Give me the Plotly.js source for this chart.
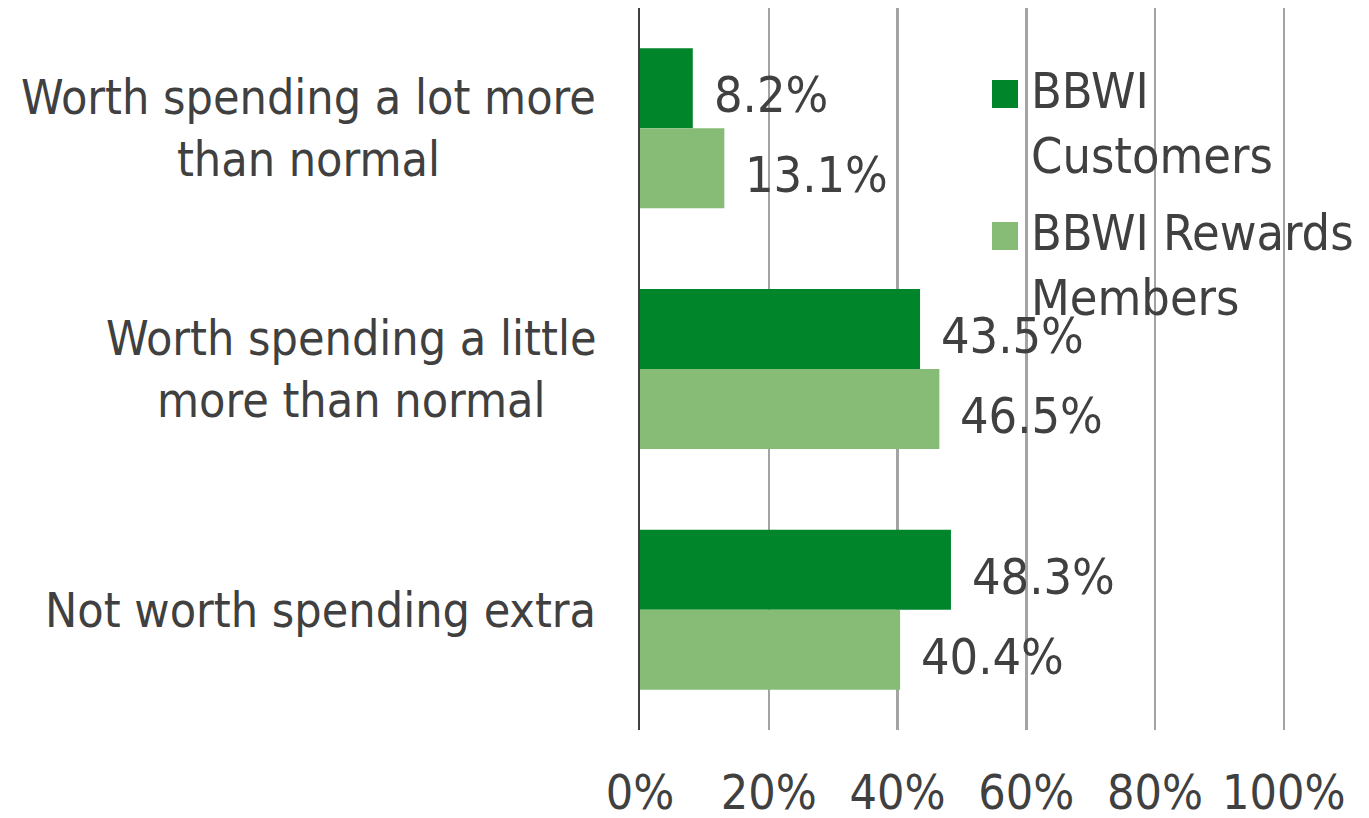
<!DOCTYPE html>
<html>
<head>
<meta charset="utf-8">
<script src="https://cdn.plot.ly/plotly-3.0.1.min.js"></script>
<style>html,body{margin:0;padding:0;background:#fff;}#chart{width:1369px;height:818px;}</style>
</head>
<body>
<div id="chart"></div>
<script>
var categories = ["Worth spending a lot more<br>than normal", "Worth spending a little<br>more than normal", "Not worth spending extra"];
var seriesNames = ["BBWI<br>Customers", "BBWI Rewards<br>Members"];
var customers = [8.2, 43.5, 48.3];
var rewardsMembers = [13.1, 46.5, 40.4];
var xTickVals = [0, 20, 40, 60, 80, 100];
var xTickText = ["0%", "20%", "40%", "60%", "80%", "100%"];

var FONT = "DejaVu Sans Condensed, Tahoma, DejaVu Sans, sans-serif";
var TXT = "#404040";
var colors = ["#00852A", "#86BC75"];
var seriesData = [customers, rewardsMembers];

var traces = seriesData.map(function (vals, i) {
  return {
    type: "bar",
    orientation: "h",
    name: seriesNames[i],
    y: categories,
    x: vals,
    marker: {color: colors[i]},
    hoverinfo: "x+y",
    showlegend: false
  };
});

var annotations = [];
// data labels
var yShifts = [33, -47];
seriesData.forEach(function (vals, i) {
  vals.forEach(function (v, j) {
    annotations.push({
      x: v, y: categories[j], xref: "x", yref: "y",
      text: v.toFixed(1) + "%", showarrow: false,
      xanchor: "left", yanchor: "middle", xshift: 19, yshift: yShifts[i],
      font: {family: FONT, size: 50, color: TXT}
    });
  });
});
// category labels
categories.forEach(function (c) {
  annotations.push({
    x: 0, y: c, xref: "paper", yref: "y", text: c, showarrow: false,
    xanchor: "right", yanchor: "middle", align: "center", xshift: -42,
    font: {family: FONT, size: 48, color: TXT}
  });
});

var plotTop = 8, plotBottomMargin = 88;
var plotH = 818 - plotTop - plotBottomMargin;
var shapes = [];
seriesNames.forEach(function (n, i) {
  var top = [60, 202][i];
  annotations.push({
    x: 1, y: 1 - (top - plotTop) / plotH, xref: "paper", yref: "paper", text: n, showarrow: false,
    xanchor: "left", yanchor: "top", align: "left", xshift: -258,
    font: {family: FONT, size: 50, color: TXT}
  });
  var sqTop = [80, 222][i];
  shapes.push({
    type: "rect", xref: "paper", yref: "paper", layer: "above",
    x0: (992 - 640) / 647, x1: (1018 - 640) / 647,
    y0: 1 - (sqTop + 28 - plotTop) / plotH, y1: 1 - (sqTop - plotTop) / plotH,
    fillcolor: colors[i], line: {width: 0}
  });
});

var layout = {
  width: 1369, height: 818,
  margin: {l: 640, r: 82, t: plotTop, b: plotBottomMargin},
  paper_bgcolor: "#ffffff", plot_bgcolor: "#ffffff",
  barmode: "group", bargap: 0.335, bargroupgap: 0,
  showlegend: false,
  xaxis: {
    range: [0, 100.5], tickvals: xTickVals, ticktext: xTickText,
    showgrid: true, gridcolor: "#A3A3A3", gridwidth: 2.5,
    zeroline: false, showline: false, ticks: "",
    ticklabelstandoff: 30,
    tickfont: {family: FONT, size: 48, color: TXT},
    fixedrange: true
  },
  yaxis: {
    autorange: "reversed", showticklabels: false, showgrid: false,
    showline: true, linecolor: "#404040", linewidth: 2.5, zeroline: false,
    ticks: "", fixedrange: true
  },
  annotations: annotations,
  shapes: shapes
};

Plotly.newPlot("chart", traces, layout, {displayModeBar: false, staticPlot: true});
</script>
</body>
</html>
